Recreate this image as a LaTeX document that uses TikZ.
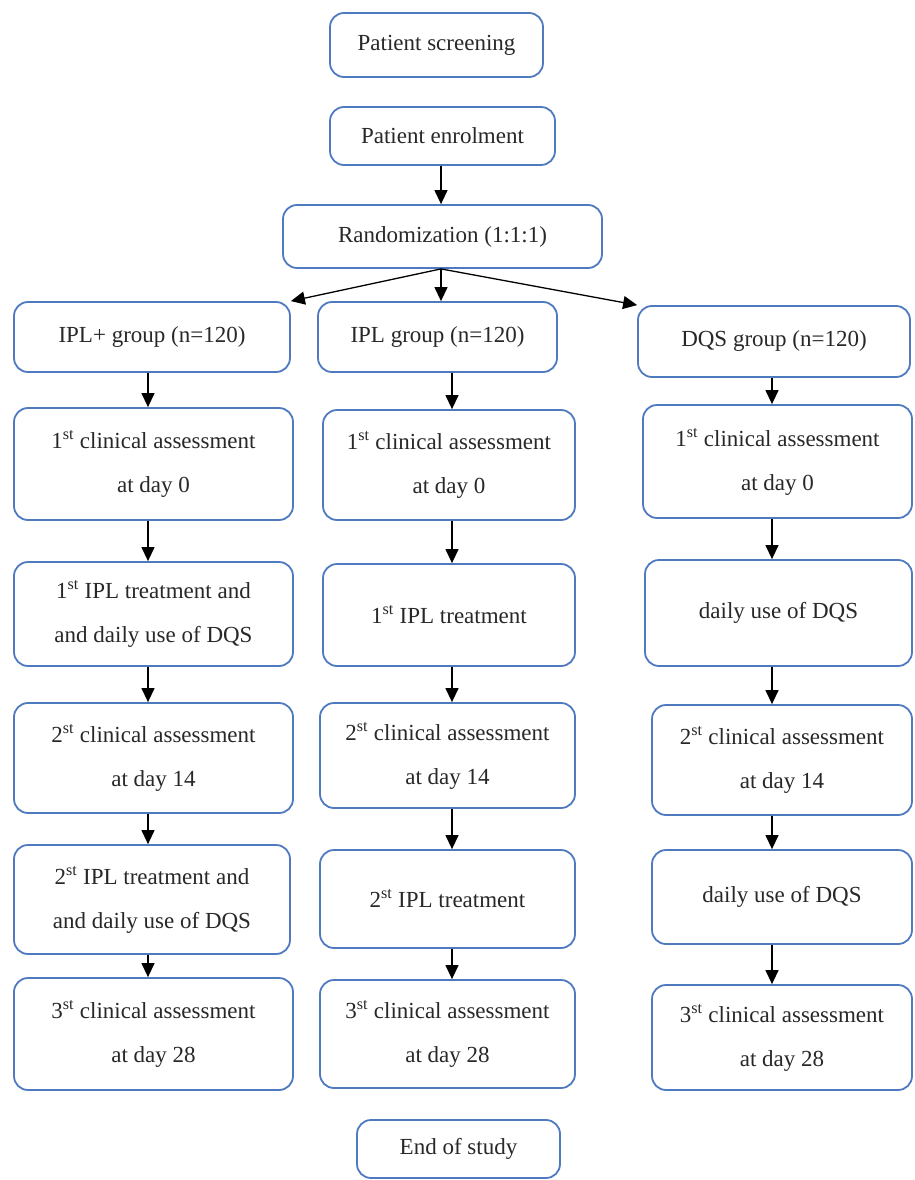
\documentclass[tikz,border=0pt]{standalone}
\usepackage{fontspec}
\setmainfont{Liberation Serif}
\usetikzlibrary{arrows.meta}
\definecolor{bxblue}{RGB}{79,122,192}
\definecolor{txt}{RGB}{40,40,40}
\tikzset{
  bx/.style={draw=bxblue, line width=1.8pt, rounded corners=14pt, fill=white,
    align=center, inner sep=0pt, text=txt,
    font=\fontsize{23}{44}\selectfont},
  arr/.style={draw=black, line width=1.3pt, -{Triangle[length=14pt,width=13pt]}}
}
\newcommand{\bxnode}[6]{%
  \pgfmathsetmacro{\bxw}{#4-#2}\pgfmathsetmacro{\bxh}{#5-#3}%
  \node[bx, minimum width=\bxw pt, minimum height=\bxh pt] (#1) at ({(#2+#4)/2},{(#3+#5)/2}) {#6};}
\begin{document}
\begin{tikzpicture}[x=1pt,y=-1pt]
\useasboundingbox (0,0) rectangle (915,1180);
% top
\bxnode{scr}{330}{13}{543}{77}{Patient screening}
\bxnode{enr}{330}{107}{555}{165}{Patient enrolment}
\bxnode{rnd}{283}{205}{602}{268}{Randomization (1:1:1)}
% left column
\bxnode{la}{14}{302}{290}{372}{IPL+ group (n=120)}
\bxnode{lb}{14}{408}{293}{520}{1\textsuperscript{st} clinical assessment\\at day 0}
\bxnode{lc}{14}{562}{293}{666}{1\textsuperscript{st} IPL treatment and\\and daily use of DQS}
\bxnode{ld}{14}{703}{293}{813}{2\textsuperscript{st} clinical assessment\\at day 14}
\bxnode{le}{14}{845}{290}{954}{2\textsuperscript{st} IPL treatment and\\and daily use of DQS}
\bxnode{lf}{14}{978}{293}{1090}{3\textsuperscript{st} clinical assessment\\at day 28}
% middle column
\bxnode{ma}{318}{302}{557}{372}{IPL group (n=120)}
\bxnode{mb}{323}{410}{575}{520}{1\textsuperscript{st} clinical assessment\\at day 0}
\bxnode{mc}{323}{564}{575}{666}{1\textsuperscript{st} IPL treatment}
\bxnode{md}{320}{703}{575}{808}{2\textsuperscript{st} clinical assessment\\at day 14}
\bxnode{me}{320}{850}{575}{948}{2\textsuperscript{st} IPL treatment}
\bxnode{mf}{320}{980}{575}{1088}{3\textsuperscript{st} clinical assessment\\at day 28}
% right column
\bxnode{ra}{638}{306}{910}{377}{DQS group (n=120)}
\bxnode{rb}{643}{405}{912}{518}{1\textsuperscript{st} clinical assessment\\at day 0}
\bxnode{rc}{645}{560}{912}{666}{daily use of DQS}
\bxnode{rd}{652}{705}{912}{815}{2\textsuperscript{st} clinical assessment\\at day 14}
\bxnode{re}{652}{850}{912}{944}{daily use of DQS}
\bxnode{rf}{652}{985}{912}{1090}{3\textsuperscript{st} clinical assessment\\at day 28}
% end
\bxnode{end}{357}{1120}{560}{1178}{End of study}
% arrows
\draw[arr] (enr.south -| 441,0) -- (rnd.north -| 441,0);
\coordinate (fan) at (rnd.south -| 441,0);
\draw[arr] (fan) -- (la.north east);
\draw[arr] (fan) -- (ma.north -| 441,0);
\draw[arr] (fan) -- (ra.north west);
\foreach \a/\b in {la/lb,lb/lc,lc/ld,ld/le,le/lf}{
  \draw[arr] (\a.south -| 148,0) -- (\b.north -| 148,0);}
\foreach \a/\b in {ma/mb,mb/mc,mc/md,md/me,me/mf}{
  \draw[arr] (\a.south -| 452,0) -- (\b.north -| 452,0);}
\foreach \a/\b in {ra/rb,rb/rc,rc/rd,rd/re,re/rf}{
  \draw[arr] (\a.south -| 772,0) -- (\b.north -| 772,0);}
\end{tikzpicture}
\end{document}
